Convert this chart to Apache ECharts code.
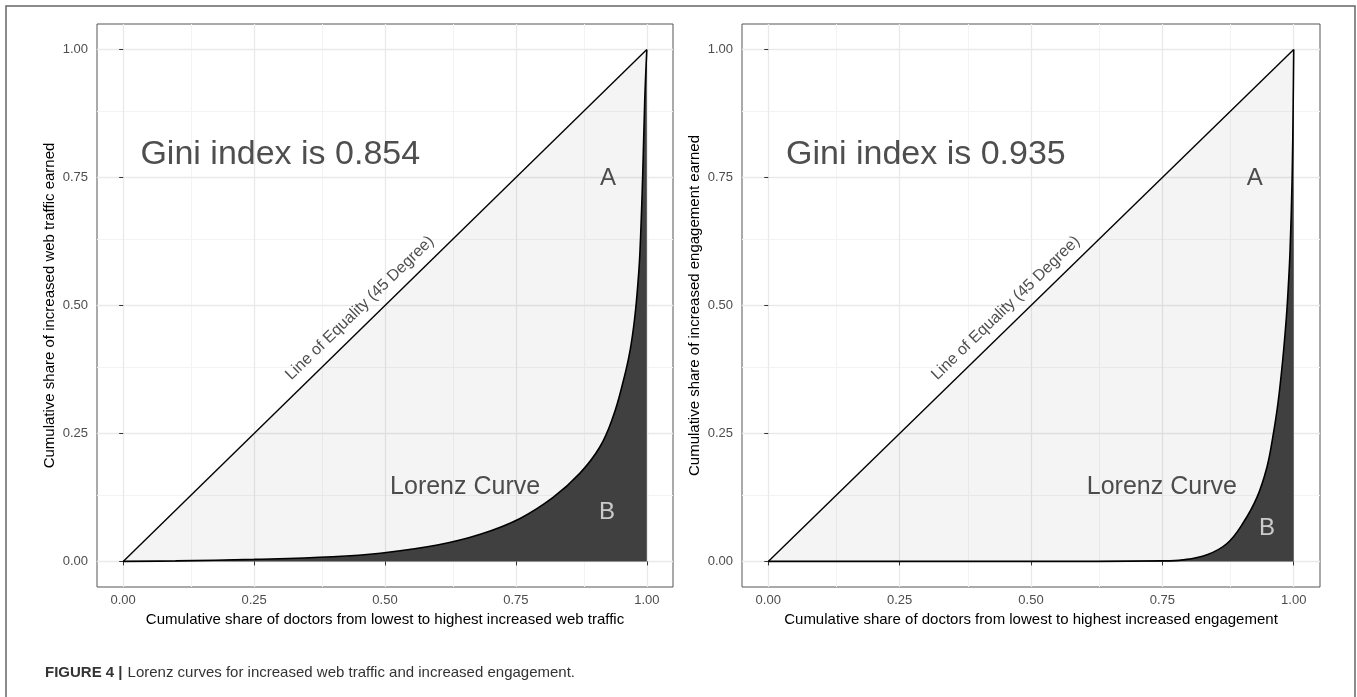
<!DOCTYPE html>
<html>
<head>
<meta charset="utf-8">
<script src="https://cdn.jsdelivr.net/npm/echarts@6/dist/echarts.min.js"></script>
<style>
html,body{margin:0;padding:0;background:#fff;}
#chart{width:1357px;height:697px;}
</style>
</head>
<body>
<div id="chart"></div>
<script>
// ---- data ----
const majorTicks = [0, 0.25, 0.5, 0.75, 1];
const minorTicks = [0.125, 0.375, 0.625, 0.875];
const equalityLine = [[0, 0], [1, 1]];
const lorenzTraffic = [[0,0],[0.1,0.001],[0.25,0.004],[0.4,0.009],[0.491,0.016],[0.6,0.032],[0.682,0.053],[0.758,0.084],[0.821,0.125],[0.872,0.172],[0.910,0.223],[0.935,0.281],[0.954,0.348],[0.968,0.412],[0.977,0.477],[0.983,0.543],[0.987,0.607],[0.992,0.75],[0.996,0.9],[1,1]];
const lorenzEngagement = [[0,0],[0.5,0],[0.75,0.001],[0.789,0.003],[0.835,0.013],[0.873,0.035],[0.903,0.074],[0.930,0.125],[0.949,0.184],[0.960,0.242],[0.970,0.309],[0.979,0.393],[0.986,0.477],[0.990,0.543],[0.993,0.607],[0.997,0.75],[0.999,0.9],[1,1]];
const giniTraffic = '0.854';
const giniEngagement = '0.935';
const xTitles = ['Cumulative share of doctors from lowest to highest increased web traffic', 'Cumulative share of doctors from lowest to highest increased engagement'];
const yTitles = ['Cumulative share of increased web traffic earned', 'Cumulative share of increased engagement earned'];
const captionBold = 'FIGURE 4 |';
const captionText = 'Lorenz curves for increased web traffic and increased engagement.';
// annotation anchors (data coords) per panel
const giniPos = [[0.30, 0.795], [0.30, 0.795]];
const aPos = [[0.926, 0.748], [0.926, 0.748]];
const lorenzLabelPos = [[0.653, 0.145], [0.749, 0.145]];
const bPos = [[0.924, 0.095], [0.949, 0.064]];
const equalityLabelPos = [[0.452, 0.495], [0.452, 0.495]];

const FONT = 'Liberation Sans, Arial, sans-serif';
const chart = echarts.init(document.getElementById('chart'));

const grids = [
  {left: 97, top: 24, width: 576, height: 563},
  {left: 742, top: 24, width: 578, height: 563}
];

function xAxisFor(i) {
  return {
    type: 'value', gridIndex: i, min: -0.05, max: 1.05,
    axisLine: {show: false}, splitLine: {show: false},
    axisTick: {show: true, customValues: majorTicks, length: 4, lineStyle: {color: '#333', width: 1}},
    axisLabel: {customValues: majorTicks, formatter: v => v.toFixed(2), color: '#4d4d4d', fontSize: 13, margin: 7, fontFamily: FONT},
    name: xTitles[i], nameLocation: 'middle', nameGap: 24,
    nameTextStyle: {color: '#000', fontSize: 15, fontFamily: FONT}
  };
}
function yAxisFor(i) {
  return {
    type: 'value', gridIndex: i, min: -0.05, max: 1.05,
    axisLine: {show: false}, splitLine: {show: false},
    axisTick: {show: true, customValues: majorTicks, length: 4, lineStyle: {color: '#333', width: 1}},
    axisLabel: {customValues: majorTicks, formatter: v => v.toFixed(2), color: '#4d4d4d', fontSize: 13, margin: 9, fontFamily: FONT},
    name: yTitles[i], nameLocation: 'middle', nameGap: 40,
    nameTextStyle: {color: '#000', fontSize: 15, fontFamily: FONT}
  };
}

function gridSeries(i) {
  const lines = [];
  minorTicks.forEach(v => {
    lines.push({xAxis: v, lineStyle: {color: '#f3f3f3', width: 1, type: 'solid'}});
    lines.push({yAxis: v, lineStyle: {color: '#f3f3f3', width: 1, type: 'solid'}});
  });
  majorTicks.forEach(v => {
    lines.push({xAxis: v, lineStyle: {color: '#e9e9e9', width: 1.3, type: 'solid'}});
    lines.push({yAxis: v, lineStyle: {color: '#e9e9e9', width: 1.3, type: 'solid'}});
  });
  return {
    type: 'line', xAxisIndex: i, yAxisIndex: i, data: [[0, 0]],
    symbol: 'none', lineStyle: {opacity: 0}, silent: true, z: 0,
    markLine: {silent: true, z: 0, symbol: 'none', label: {show: false}, animation: false,
      lineStyle: {type: 'solid'}, emphasis: {disabled: true}, data: lines}
  };
}

function panelSeries(i, lorenz, gini) {
  const textSeries = (pos, text, style) => ({
    type: 'scatter', xAxisIndex: i, yAxisIndex: i, symbolSize: 0, silent: true, z: 10,
    data: [pos],
    label: Object.assign({show: true, position: 'inside', formatter: text, fontFamily: FONT}, style)
  });
  return [
    gridSeries(i),
    {
      type: 'line', xAxisIndex: i, yAxisIndex: i, data: equalityLine, symbol: 'none', z: 2,
      lineStyle: {color: '#000', width: 1.4},
      areaStyle: {color: 'rgba(0,0,0,0.06)', origin: 0}
    },
    {
      type: 'line', xAxisIndex: i, yAxisIndex: i, data: lorenz, symbol: 'none', z: 3,
      smooth: 0.4,
      lineStyle: {color: '#000', width: 1.6},
      areaStyle: {color: '#404040', opacity: 1, origin: 0}
    },
    textSeries(giniPos[i], 'Gini index is ' + gini, {fontSize: 34, color: '#222'}),
    textSeries(aPos[i], 'A', {fontSize: 24, color: '#222'}),
    textSeries(lorenzLabelPos[i], 'Lorenz Curve', {fontSize: 25, color: '#222'}),
    textSeries(bPos[i], 'B', {fontSize: 24, color: '#eeeeee'}),
    textSeries(equalityLabelPos[i], 'Line of Equality (45 Degree)', {fontSize: 16, color: '#222', rotate: 44})
  ];
}

const option = {
  animation: false,
  backgroundColor: '#fff',
  grid: grids.map(g => Object.assign({show: true, borderColor: '#555', borderWidth: 1, backgroundColor: '#fff', containLabel: false}, g)),
  xAxis: [xAxisFor(0), xAxisFor(1)],
  yAxis: [yAxisFor(0), yAxisFor(1)],
  series: [].concat(panelSeries(0, lorenzTraffic, giniTraffic), panelSeries(1, lorenzEngagement, giniEngagement)),
  title: {
    left: 40, top: 659,
    text: '{b|' + captionBold + '} {r|' + captionText + '}',
    textStyle: {
      fontWeight: 'normal',
      rich: {
        b: {fontWeight: 'bold', fontSize: 15, color: '#333', fontFamily: FONT},
        r: {fontWeight: 'normal', fontSize: 15, color: '#333', fontFamily: FONT}
      }
    }
  },
  graphic: [{
    type: 'rect', silent: true, z: -1,
    shape: {x: 6, y: 6, width: 1349, height: 720},
    style: {fill: 'none', stroke: '#666', lineWidth: 1.5}
  }]
};
chart.setOption(option);
</script>
</body>
</html>
